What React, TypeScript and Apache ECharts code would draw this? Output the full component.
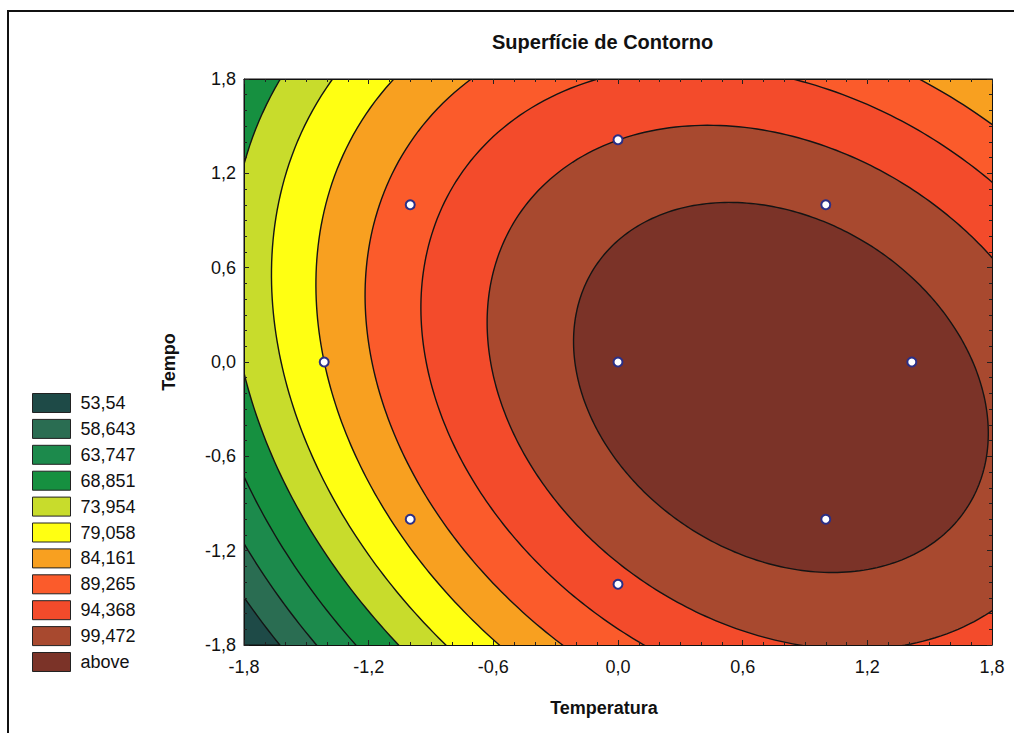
import React, { useEffect, useRef } from "react";
import * as echarts from "echarts";

// Contour levels and legend
const LEVELS = [53.54, 58.643, 63.747, 68.851, 73.954, 79.058, 84.161, 89.265, 94.368, 99.472];
const LEGEND_LABELS = ["53,54", "58,643", "63,747", "68,851", "73,954", "79,058", "84,161", "89,265", "94,368", "99,472", "above"];
const BAND_COLORS = ["#1e4a47", "#2a6d52", "#1c8a4c", "#169040", "#c8dc2c", "#ffff12", "#f8a020", "#fb5b2b", "#f34b2b", "#a8492f", "#7b3328"];

// Fitted quadratic response surface (coded units):
// z = b0 + b1*x + b2*y + b11*x^2 + b22*y^2 + b12*x*y
const COEF_NAMES = ["b0", "b1", "b2", "b11", "b22", "b12"];
const COEF_VALUES = [101.394, 8.132, 0.526, -5.421, -3.898, -2.281];

// Experimental design points (Temperatura, Tempo)
const DESIGN_X = [-1, 1, -1, 1, -1.414, 1.414, 0, 0, 0];
const DESIGN_Y = [-1, -1, 1, 1, 0, 0, -1.414, 1.414, 0];

// Axis range
const AXIS_MIN = -1.8;
const AXIS_MAX = 1.8;
const AXIS_STEP = 0.6;

const FONT = "'Liberation Sans', Arial, sans-serif";
const fmt = (v: number) => (Math.abs(v) < 1e-9 ? "0,0" : v.toFixed(1).replace(".", ","));

export default function App() {
  const ref = useRef<HTMLDivElement>(null);
  useEffect(() => {
    document.body.style.margin = "0";
    const chart = echarts.init(ref.current!, null, { renderer: "svg" });
    const coef: Record<string, number> = {};
    COEF_NAMES.forEach((n, i) => (coef[n] = COEF_VALUES[i]));
    const { b0, b1, b2, b11, b22, b12 } = coef;
    const det = 4 * b11 * b22 - b12 * b12;
    const X0 = (-2 * b22 * b1 + b12 * b2) / det;
    const Y0 = (-2 * b11 * b2 + b12 * b1) / det;
    const FMAX = b0 + b1 * X0 + b2 * Y0 + b11 * X0 * X0 + b22 * Y0 * Y0 + b12 * X0 * Y0;

    const axisCommon = {
      type: "value" as const,
      min: AXIS_MIN,
      max: AXIS_MAX,
      interval: AXIS_STEP,
      z: 5,
      axisLine: { show: true, onZero: false, lineStyle: { color: "#111", width: 1 } },
      axisTick: { show: true, inside: true, length: 5, lineStyle: { color: "#222" } },
      minorTick: { show: true, splitNumber: 6, length: 3, lineStyle: { color: "#222" } },
      splitLine: { show: false },
    };
    const labelStyle = { fontSize: 18, color: "#111", fontFamily: FONT, formatter: fmt };

    chart.setOption({
      animation: false,
      backgroundColor: "#fff",
      title: {
        text: "Superfície de Contorno",
        left: 487,
        top: 27,
        textStyle: { fontSize: 20, fontWeight: "bold", fontFamily: FONT, color: "#111" },
      },
      legend: {
        orient: "vertical",
        left: 32,
        top: 393,
        padding: 0,
        itemWidth: 38,
        itemHeight: 19,
        itemGap: 5.9,
        icon: "rect",
        selectedMode: false,
        data: LEGEND_LABELS,
        itemStyle: { borderColor: "#222", borderWidth: 1, opacity: 1 },
        textStyle: { fontSize: 18, color: "#111", fontFamily: FONT, padding: [0, 0, 0, 5] },
      },
      grid: {
        left: 244,
        top: 79,
        width: 748,
        height: 566,
        show: true,
        backgroundColor: BAND_COLORS[0],
        borderColor: "#111",
      },
      xAxis: [
        {
          ...axisCommon,
          position: "bottom",
          name: "Temperatura",
          nameLocation: "middle",
          nameGap: 54,
          nameTextStyle: { fontSize: 18, fontWeight: "bold", fontFamily: FONT, color: "#111", padding: [0, 28, 0, 0] },
          axisLabel: { ...labelStyle, margin: 13 },
        },
        { ...axisCommon, position: "top", axisLabel: { show: false } },
      ],
      yAxis: [
        {
          ...axisCommon,
          position: "left",
          name: "Tempo",
          nameLocation: "middle",
          nameGap: 66,
          nameRotate: 90,
          nameTextStyle: { fontSize: 18, fontWeight: "bold", fontFamily: FONT, color: "#111" },
          axisLabel: { ...labelStyle, margin: 8 },
        },
        { ...axisCommon, position: "right", axisLabel: { show: false } },
      ],
      graphic: [
        {
          type: "rect",
          shape: { x: 8, y: 11, width: 1100, height: 800 },
          style: { fill: "none", stroke: "#111", lineWidth: 2 },
          z: 10,
        },
      ],
      series: [
        {
          type: "custom",
          clip: true,
          z: 1,
          silent: true,
          data: LEVELS.map((l) => [X0, Y0, l]),
          renderItem: (params: any, api: any) => {
            const c = LEVELS[params.dataIndex];
            const D = FMAX - c;
            const pts: number[][] = [];
            for (let k = 0; k < 360; k++) {
              const t = (k / 360) * 2 * Math.PI;
              const cs = Math.cos(t), sn = Math.sin(t);
              const q = -(b11 * cs * cs + b22 * sn * sn + b12 * cs * sn);
              const r = Math.sqrt(D / q);
              pts.push(api.coord([X0 + r * cs, Y0 + r * sn]));
            }
            return {
              type: "polygon",
              shape: { points: pts },
              style: { fill: BAND_COLORS[params.dataIndex + 1], stroke: "#141414", lineWidth: 1.4 },
            };
          },
        },
        {
          type: "scatter",
          z: 6,
          symbol: "circle",
          symbolSize: 9,
          data: DESIGN_X.map((x, i) => [x, DESIGN_Y[i]]),
          itemStyle: { color: "#fff", borderColor: "#2b2f86", borderWidth: 2, opacity: 1 },
        },
        ...LEGEND_LABELS.map((n, i) => ({
          type: "scatter",
          name: n,
          data: [],
          itemStyle: { color: BAND_COLORS[i], opacity: 1 },
        })),
      ],
    });
    return () => chart.dispose();
  }, []);
  return <div ref={ref} style={{ width: 1014, height: 733 }} />;
}
